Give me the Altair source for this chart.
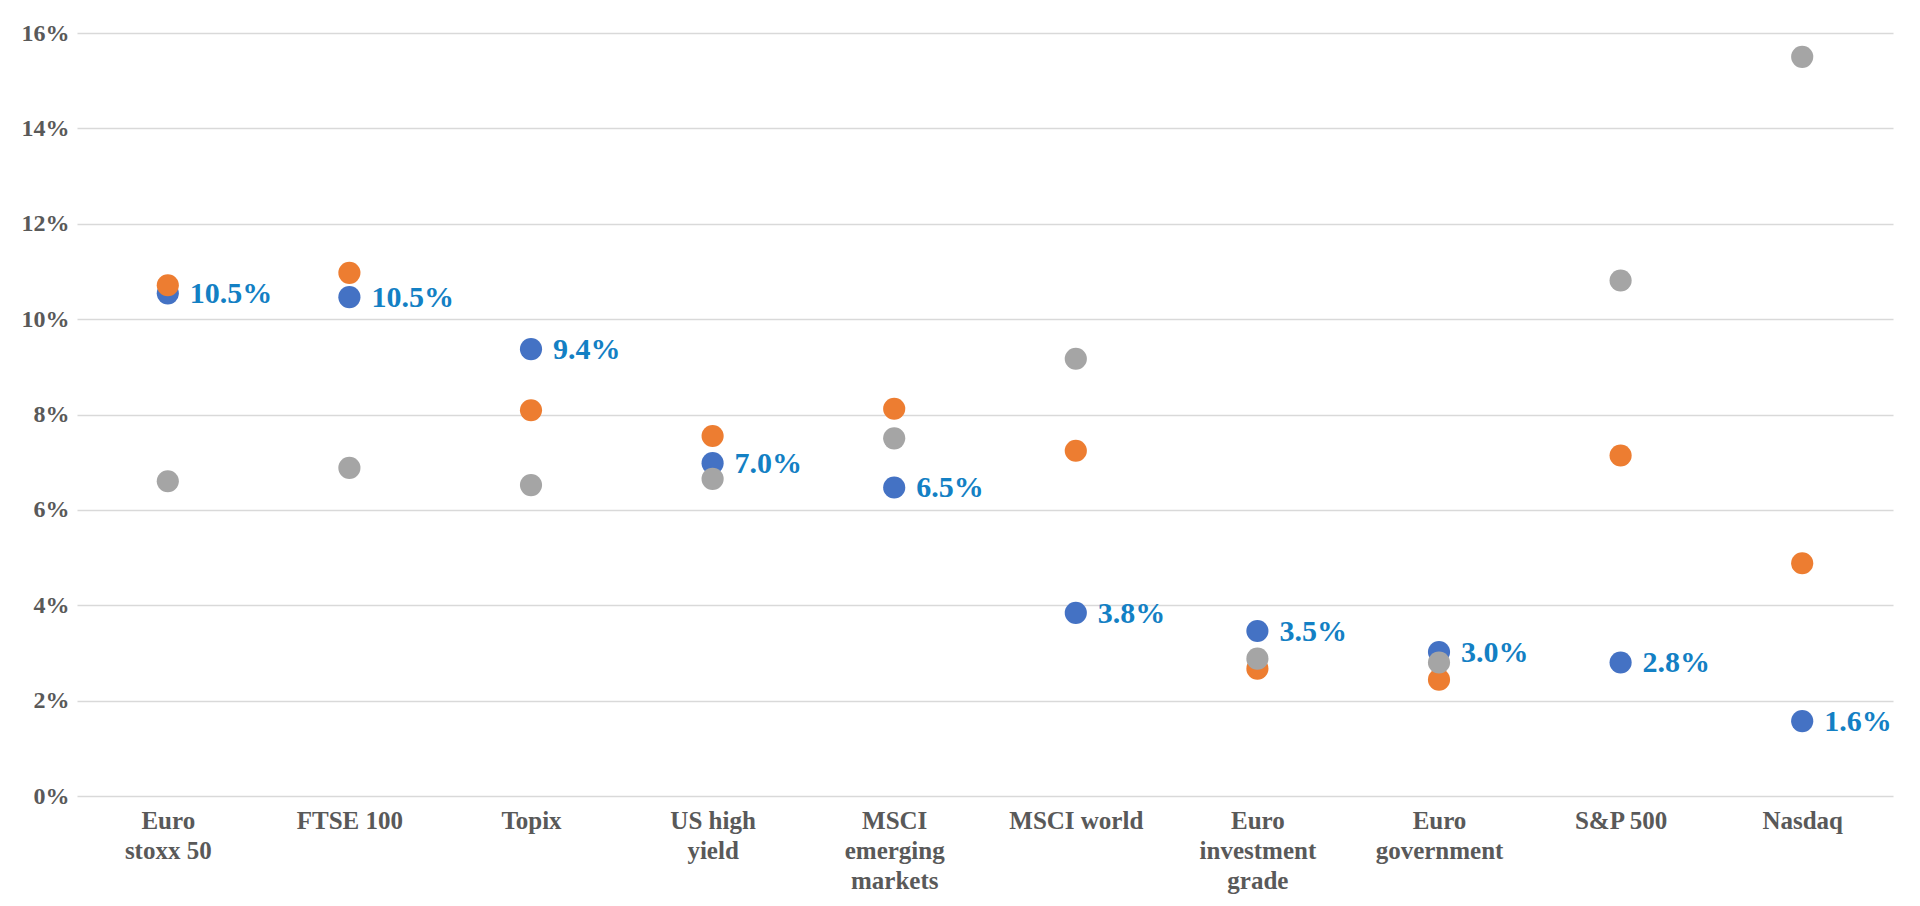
import altair as alt
import pandas as pd

categories = ["Euro|stoxx 50", "FTSE 100", "Topix", "US high|yield", "MSCI|emerging|markets",
              "MSCI world", "Euro|investment|grade", "Euro|government", "S&P 500", "Nasdaq"]
blue = [10.54, 10.46, 9.37, 6.98, 6.47, 3.84, 3.46, 3.02, 2.80, 1.57]
orange = [10.71, 10.97, 8.09, 7.55, 8.12, 7.24, 2.67, 2.44, 7.14, 4.88]
gray = [6.60, 6.88, 6.52, 6.65, 7.50, 9.17, 2.88, 2.80, 10.81, 15.50]
series = ["blue", "orange", "gray"]
colors = ["#4472C4", "#ED7D31", "#A5A5A5"]
y_ticks = [0, 2, 4, 6, 8, 10, 12, 14, 16]

rows = []
for s, vals in zip(series, [blue, orange, gray]):
    for c, v in zip(categories, vals):
        rows.append({"cat": c, "series": s, "value": v})
df = pd.DataFrame(rows)
df_lab = pd.DataFrame({"cat": categories, "value": blue})

FONT = "Liberation Serif"

x = alt.X("cat:N", sort=categories, title=None,
          scale=alt.Scale(type="point", padding=0.5),
          axis=alt.Axis(labelExpr="split(datum.label, '|')", labelAngle=0,
                        labelFont=FONT, labelFontWeight="bold", labelFontSize=25,
                        labelColor="#595959", labelLineHeight=30, labelPadding=12,
                        labelBaseline="top", ticks=False, domain=False, grid=False))
y = alt.Y("value:Q", title=None,
          scale=alt.Scale(domain=[0, 16], nice=False, zero=True),
          axis=alt.Axis(values=y_ticks, labelExpr="datum.value + '%'",
                        labelFont=FONT, labelFontWeight="bold", labelFontSize=24,
                        labelColor="#595959", labelPadding=8, ticks=False, domain=False,
                        grid=True, gridColor="#D9D9D9", gridWidth=1.3))

points = alt.Chart(df).mark_circle(size=490, opacity=1).encode(
    x=x, y=y,
    color=alt.Color("series:N", scale=alt.Scale(domain=series, range=colors), legend=None),
)

labels = alt.Chart(df_lab).transform_calculate(
    lbl="format(datum.value, '.1f') + '%'"
).mark_text(
    align="left", baseline="middle", dx=22, dy=1, font=FONT, fontWeight="bold",
    fontSize=30, color="#1380C4"
).encode(
    x=alt.X("cat:N", sort=categories, scale=alt.Scale(type="point", padding=0.5)),
    y=alt.Y("value:Q"),
    text=alt.Text("lbl:N"),
)

chart = alt.layer(points, labels).properties(
    width=1816, height=763,
    background="white",
    autosize=alt.AutoSizeParams(type="none"),
    padding={"left": 69, "top": 25, "right": 10, "bottom": 100},
).configure_view(stroke=None, strokeWidth=0)

chart.save("out.html", embed_options={"renderer": "svg", "actions": False})
